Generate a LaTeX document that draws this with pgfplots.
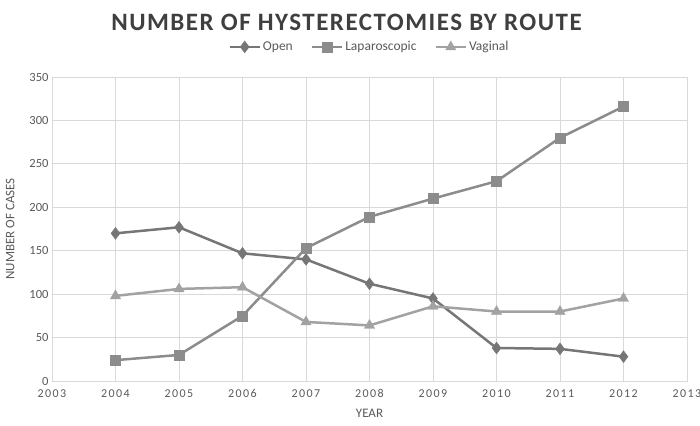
\documentclass[border=0pt]{standalone}
\usepackage{pgfplots}
\pgfplotsset{compat=1.18}
\usepackage{fontspec}
\setmainfont{Carlito}
\newfontfamily\titlefont[LetterSpace=6]{Carlito}
\newfontfamily\xtickfont[LetterSpace=12]{Carlito}
\definecolor{gridc}{HTML}{D9D9D9}
\definecolor{txt}{HTML}{595959}
\definecolor{ttl}{HTML}{3F3F3F}
\definecolor{copen}{HTML}{767676}
\definecolor{clap}{HTML}{8C8C8C}
\definecolor{cvag}{HTML}{A2A2A2}
\begin{document}
\begin{tikzpicture}[x=1pt,y=1pt]
\useasboundingbox (0,0) rectangle (700,425);
\begin{axis}[
  at={(52pt,44pt)}, anchor=south west,
  scale only axis, width=635pt, height=304pt,
  xmin=2003, xmax=2013, ymin=0, ymax=350,
  xtick={2003,...,2013}, ytick={0,50,...,350},
  grid=major, major grid style={gridc, line width=0.8pt},
  axis line style={gridc, line width=0.8pt},
  tick style={draw=none},
  /pgf/number format/assume math mode=true,
  xticklabel style={font=\xtickfont\fontsize{12}{14}\selectfont, text=txt, yshift=-5pt},
  yticklabel style={font=\fontsize{12.5}{14}\selectfont, text=txt},
  xticklabel={\pgfmathprintnumber[fixed,precision=0,set thousands separator={}]{\tick}},
  xlabel={YEAR}, ylabel={NUMBER OF CASES},
  xlabel style={font=\fontsize{13}{15}\selectfont, text=txt, at={(0.5,-0.105)}, anchor=center},
  ylabel style={font=\fontsize{13}{15}\selectfont, text=txt, at={(-0.066,0.5)}, anchor=center},
  legend columns=3,
  legend style={at={(0.5,1.099)}, anchor=center, draw=none, fill=none,
    font=\fontsize{13.5}{15}\selectfont, text=txt,
    /tikz/every even column/.append style={column sep=16pt}},
  legend image code/.code={\draw[#1, mark repeat=2, mark phase=2] plot coordinates {(0pt,0pt) (15pt,0pt) (30pt,0pt)};},
  clip=false,
]
\addplot[copen, line width=2.5pt, mark=diamond*, mark size=6pt, mark options={solid, line width=0.3pt}] coordinates {
(2004,170) (2005,177) (2006,147) (2007,140) (2008,112) (2009,95) (2010,38) (2011,37) (2012,28)};
\addlegendentry{Open}
\addplot[clap, line width=2.5pt, mark=square*, mark size=5pt, mark options={solid, line width=0.3pt}] coordinates {
(2004,24) (2005,30) (2006,75) (2007,153) (2008,189) (2009,210) (2010,230) (2011,280) (2012,316)};
\addlegendentry{Laparoscopic}
\addplot[cvag, line width=2.5pt, mark=triangle*, mark size=6pt, mark options={solid, line width=0.3pt}] coordinates {
(2004,98) (2005,106) (2006,108) (2007,68) (2008,64) (2009,86) (2010,80) (2011,80) (2012,95)};
\addlegendentry{Vaginal}
\end{axis}
\node[font=\titlefont\bfseries\fontsize{25}{29}\selectfont, text=ttl] at (346.5,403) {NUMBER OF HYSTERECTOMIES BY ROUTE};
\end{tikzpicture}
\end{document}
